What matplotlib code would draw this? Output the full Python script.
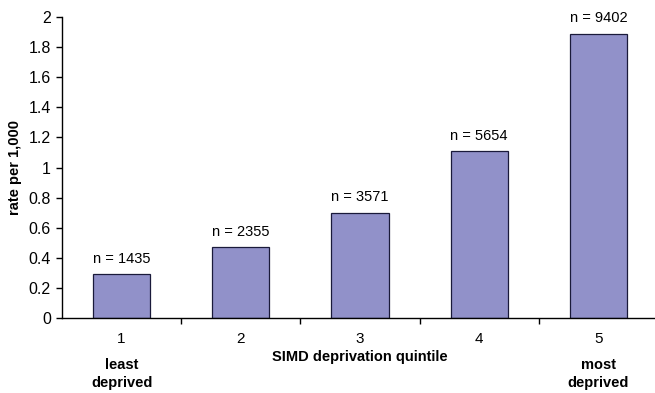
import numpy as np
import matplotlib
matplotlib.use("Agg")
import matplotlib.pyplot as plt

plt.rcParams['font.family'] = ['Liberation Sans', 'DejaVu Sans']

quintiles = [1, 2, 3, 4, 5]
rates = [0.29, 0.47, 0.70, 1.11, 1.89]
counts = [1435, 2355, 3571, 5654, 9402]

fig = plt.figure(figsize=(6.55, 3.93), dpi=100)
ax = fig.add_axes([62 / 655, 1 - 318 / 393, 596 / 655, 301 / 393])

ax.bar(quintiles, rates, width=0.48, color='#9191c9', edgecolor='#1a1a3a', linewidth=0.9)

for q, r, n in zip(quintiles, rates, counts):
    ax.annotate(f'n = {n}', (q, r), xytext=(0, 6), textcoords='offset points',
                ha='center', va='bottom', fontsize=10.5)

ax.set_xlim(0.5, 5.5)
ax.set_ylim(0, 2)
ax.set_yticks(np.arange(0, 2.01, 0.2))
ax.set_yticklabels(['0', '0.2', '0.4', '0.6', '0.8', '1', '1.2', '1.4', '1.6', '1.8', '2'])

# labels at bar centres, tick marks at category boundaries
ax.set_xticks(quintiles)
ax.set_xticklabels([str(q) for q in quintiles])
ax.tick_params(axis='x', which='major', length=0, pad=10, labelsize=11)
ax.set_xticks([1.5, 2.5, 3.5, 4.5, 5.5], minor=True)
ax.tick_params(axis='x', which='minor', length=4, width=1, direction='out')
ax.tick_params(axis='y', length=4, width=1, direction='out', pad=4, labelsize=11.5)

for side in ['top', 'right']:
    ax.spines[side].set_visible(False)
for side in ['left', 'bottom']:
    ax.spines[side].set_linewidth(1)

ax.set_ylabel('rate per 1,000', fontsize=10.5, fontweight='bold', labelpad=5)
ax.set_xlabel('SIMD deprivation quintile', fontsize=10.5, fontweight='bold', labelpad=3)

ax.text(1, -0.133, 'least\ndeprived', transform=ax.get_xaxis_transform(), ha='center', va='top',
        fontsize=10.5, fontweight='bold', linespacing=1.35)
ax.text(5, -0.133, 'most\ndeprived', transform=ax.get_xaxis_transform(), ha='center', va='top',
        fontsize=10.5, fontweight='bold', linespacing=1.35)

fig.savefig('out.png', dpi=100)
